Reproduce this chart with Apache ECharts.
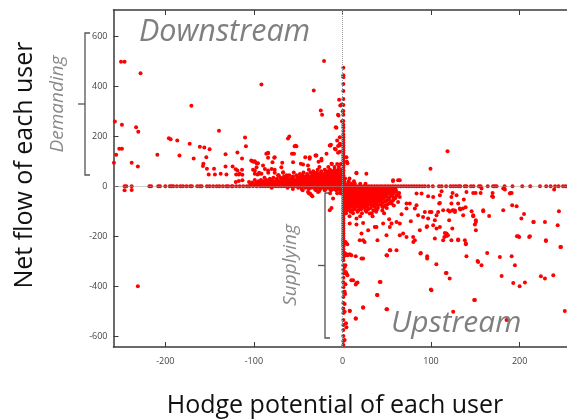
<!DOCTYPE html>
<html><head><meta charset="utf-8">
<script src="https://cdn.jsdelivr.net/npm/echarts@6/dist/echarts.min.js"></script>
<style>html,body{margin:0;padding:0;background:#fff}#c{width:567px;height:419px}</style>
</head><body><div id="c"></div>
<script>
// ---------- data ----------
const xTicks = [-200, -100, 0, 100, 200];
const yTicks = [-600, -400, -200, 0, 200, 400, 600];

// users sitting on net flow = 0
const zeroFlowX = [-246, -244, -238, -218, -216, -208, -206, -200, -195, -193, -191, -187, -183, -180, -176, -172, -170, -164, -161, -159, -153, -150, -146, -142, -139, -135, -131, -129, -125, -124, -120, -116, -112, -108, -105, -101, -97, -93, -90, -87, -84, -81, -78, -75, -72, -69, -66, -63, -60, -57, -54, -51, -48, -45, -42, -39, -36, -33, -30, -27, -24, -21, -18, -15, -12, -9, -6, -3,
  3, 6, 9, 12, 15, 18, 21, 24, 27, 30, 33, 36, 39, 42, 45, 48, 51, 54, 57, 60, 63, 66, 69, 72, 75, 78, 81, 84, 87, 90, 93, 97, 102, 109, 112, 117, 122, 125, 128, 131, 133, 138, 140, 145, 148, 154, 156, 164, 170, 172, 174, 183, 192, 203, 212, 223, 230, 235, 240, 244, 249, 252];

// users sitting on Hodge potential ~ 0
const zeroPotentialY = [475, 445, 437, 410, 382, 350, 326, 302, 287, 262, 247, 236, 222, 208, 197, 186, 175, 165, 155, 145, 135, 125, 115, 105, 95, 85, 75, 65, 55, 45, 35, 25, 15, 5,
  -8, -18, -28, -38, -48, -58, -68, -78, -88, -98, -108, -118, -128, -138, -148, -158, -168, -178, -188, -198, -208, -216, -224, -232, -240, -252, -262, -272, -285, -296, -316, -334, -349, -366, -384, -404, -424, -444, -468, -490, -508, -536, -556, -576, -600, -620, -636];

// dense cluster left of 0: [net flow, potentials]
const demandRows = [
  [6, [-104, -100, -96, -92, -88, -84, -80, -76, -72, -68, -64, -60, -56, -52, -48, -44, -40, -36, -32, -28, -24, -20, -16, -12, -8, -4]],
  [10, [-102, -98, -94, -90, -86, -82, -78, -74, -70, -66, -62, -58, -54, -50, -46, -42, -38, -34, -30, -26, -22, -18, -14, -10, -6, -2]],
  [15, [-102, -97, -93, -89, -85, -81, -77, -73, -69, -65, -61, -57, -53, -49, -45, -41, -37, -33, -29, -25, -21, -17, -13, -9, -5, -1]],
  [20, [-95, -89, -83, -77, -71, -66, -62, -57, -53, -49, -45, -41, -37, -33, -29, -25, -21, -17, -13, -9, -5, -1]],
  [25, [-99, -92, -86, -80, -74, -69, -64, -59, -55, -51, -47, -43, -39, -35, -31, -27, -23, -19, -15, -11, -7, -3]],
  [30, [-82, -74, -67, -61, -55, -49, -44, -40, -36, -32, -28, -24, -20, -16, -12, -8, -4]],
  [35, [-88, -78, -70, -63, -57, -51, -46, -42, -38, -34, -30, -26, -22, -18, -14, -10, -6, -2]],
  [40, [-66, -56, -48, -42, -36, -31, -27, -23, -19, -15, -11, -7, -3]],
  [45, [-72, -60, -52, -45, -39, -34, -29, -25, -21, -17, -13, -9, -5, -1]],
  [50, [-48, -40, -32, -26, -21, -16, -12, -8, -4]],
  [56, [-55, -44, -36, -29, -24, -19, -14, -10, -6, -2]],
  [61, [-33, -24, -17, -11, -7, -3]],
  [67, [-38, -28, -20, -14, -9, -5, -1]],
  [78, [-26, -16, -9, -4]],
  [90, [-12, -6, -2]],
  [-6, [-80, -62, -50, -42, -35, -28, -22, -17, -12, -8, -4]],
  [-11, [-56, -46, -38, -31, -25, -19, -14, -10, -6, -2]],
  [-16, [-45, -30, -20, -13, -7, -3]],
  [-28, [-14, -6, -2]]
];

// dense cluster right of 0
const supplyRows = [
  [32, [3, 8]],
  [20, [2, 7, 13]],
  [10, [2, 6, 10, 14, 20, 26]],
  [-2, [4, 8, 12, 16, 20, 24, 28, 32, 36, 40, 44, 48, 52, 56]],
  [-7, [2, 6, 10, 14, 18, 22, 26, 30, 34, 38, 42, 46, 50, 54, 58]],
  [-12, [3, 7, 11, 15, 19, 23, 27, 31, 35, 39, 43, 47, 51, 55, 60]],
  [-17, [1, 5, 9, 13, 17, 21, 25, 29, 33, 37, 41, 45, 49, 53, 57]],
  [-22, [4, 8, 12, 16, 20, 24, 28, 32, 36, 40, 44, 49, 55, 61]],
  [-27, [3, 7, 11, 15, 19, 23, 27, 31, 35, 39, 43, 47, 52, 58, 64]],
  [-32, [4, 8, 12, 16, 20, 24, 28, 32, 36, 40, 45, 50, 56, 63]],
  [-37, [2, 6, 10, 14, 18, 22, 26, 30, 34, 38, 43, 48, 54, 61]],
  [-42, [3, 7, 11, 15, 19, 23, 27, 31, 35, 40, 45, 50, 57]],
  [-47, [4, 8, 12, 16, 20, 24, 28, 32, 37, 42, 47, 53, 60]],
  [-52, [5, 9, 13, 17, 21, 25, 29, 34, 39, 45, 52, 58]],
  [-57, [3, 7, 11, 15, 19, 23, 27, 32, 37, 43, 50, 57]],
  [-62, [4, 8, 12, 16, 20, 25, 30, 35, 41, 48, 55]],
  [-67, [2, 6, 10, 14, 18, 22, 27, 32, 38, 45, 53]],
  [-72, [3, 7, 11, 15, 20, 25, 30, 36, 43, 51]],
  [-77, [4, 8, 12, 17, 22, 27, 33, 40, 48, 58]],
  [-82, [5, 10, 16, 22, 28, 36, 45]],
  [-87, [3, 8, 13, 19, 25, 32, 40, 50]],
  [-92, [7, 14, 21, 29, 38]],
  [-97, [5, 11, 18, 26, 35, 45]],
  [-102, [9, 17, 27, 38]],
  [-108, [4, 12, 22, 33, 47]],
  [-120, [8, 20, 34]]
];

// scattered users, mostly upper-left (demanding)
const demandPoints = [
  [-250, 500], [-246, 500], [-228, 453], [-257, 260], [-249, 247], [-233, 237], [-230.5, 219], [-252, 151], [-249, 151], [-255.5, 127], [-258, 95], [-238, 95], [-231, 80], [-209, 127],
  [-196, 193], [-194, 189], [-186.5, 184], [-184, 124], [-170.6, 323], [-172.5, 171], [-168, 112], [-161, 159], [-156, 156], [-150, 149], [-153.7, 117], [-157, 91], [-157.5, 82], [-153, 71],
  [-151, 48], [-145, 71], [-144, 48], [-139.4, 223], [-137.5, 51], [-132, 129], [-132, 80], [-131, 48], [-124, 80], [-120.5, 69], [-118.6, 136], [-120, 48], [-117, 48], [-113.4, 112],
  [-113.4, 67], [-113, 47], [-120.5, 17], [-117, 21], [-110, 196], [-109, 161], [-105.5, 17], [-101.7, 101], [-100, 99], [-97, 93], [-101, 67], [-96, 48], [-94, 55],
  [-91.5, 408], [-32.4, 384], [-20.8, 503], [-24.5, 304], [-23, 287], [-60, 200], [-61.5, 192], [-54, 161], [-52, 161], [-54.7, 131], [-86, 131], [-84, 115], [-77, 115], [-79, 97],
  [-68, 95], [-47, 91], [-42, 117], [-37, 117], [-30, 124], [-27, 99], [-13.6, 164], [-7.6, 237], [-4.5, 284], [-3.8, 347], [-2.5, 324], [-6, 184], [-5, 162], [-3, 139],
  [-84, 133], [-76.5, 117], [-99, 101], [-95.4, 93], [-89.7, 84], [-84, 64], [-76.5, 67], [-69, 77], [-67, 57], [-55.8, 97], [-44.5, 88], [-38.9, 84], [-37, 111], [-29.4, 124],
  [-23.7, 104], [-18, 131], [-14.4, 164], [-8.7, 151], [-12.4, 91], [-3, 171], [-99, 51], [-91.5, 51], [-118.6, 64], [-116, 51], [-113, 24], [-103, 104], [-97, 77], [-99, 64],
  [-94, 51], [-87.6, 70], [-83.8, 55], [-80, 70], [-76.5, 55], [-72.7, 45], [-67, 55], [-63, 45], [-246, -16], [-238, -15], [-231, -400], [-38.9, -23], [-35, -36], [-27.6, -23],
  [-37.7, -29], [-13, 167], [-30.5, 124], [-23.7, 111], [-53, 163], [-57, 131], [-84, 135], [-36.6, -29], [-34, -40], [-26.4, -20], [-14.4, -96], [-12.4, -87], [-10.6, -49],
  [4.5, 117], [5.6, 93], [15.8, 55], [4.9, 99], [27, 51], [15.8, 53], [57.2, 24], [64.7, 24], [57, 21], [99.4, 71], [118.6, 141], [0.3, 301], [-0.8, 328], [-5, 287], [-0.5, 261],
  [-6.8, 235], [-3, 197], [-3, 165], [-7.6, 148], [-5, 135]
];

// scattered users, mostly lower-right (supplying)
const supplyPoints = [
  [23.3, -289], [25, -223], [19.5, -216], [15, -280], [8.2, -272], [10, -276], [5.6, -356], [10, -376], [15, -393], [17, -385], [3.4, -392], [8.2, -500], [15, -531], [23.3, -487],
  [39.5, -436], [43, -383], [50.4, -277], [54, -256], [50.4, -493], [39.5, -216], [80, -223], [88, -269], [95.6, -289], [106, -312], [99.8, -413], [116.7, -347], [121, -369], [125, -503],
  [130.6, -216], [139.3, -232], [140, -280], [148.7, -456], [152.5, -299], [157, -316], [163.4, -267], [177.7, -283], [179.7, -359], [185.3, -536], [191, -280], [194.7, -316], [192.8, -387],
  [200, -400], [206, -385], [224, -360], [228.6, -369], [238, -356], [246.7, -243], [251, -500], [229.7, -216],
  [111.9, -20], [124.3, -27], [147.6, -27], [150.3, -27], [156, -27], [169.5, -27], [183.4, -13], [191, -27], [239, -13], [110, -67], [123, -69], [130.6, -69], [137, -53], [121, -101],
  [124, -97], [127, -97], [133, -93], [136, -89], [139, -84], [145.8, -100], [147.6, -116], [150.6, -136], [149.5, -153], [150.6, -176], [158.9, -100], [165.6, -119], [169, -40], [181.5, -96],
  [189.8, -27], [191.6, -76], [196.6, -80], [202, -129], [205, -111], [197, -200], [199.5, -203], [210.8, -203], [216, -143], [228.6, -143], [229.7, -219], [243, -156], [244.4, -100],
  [246, -243], [110, -163], [115.6, -187], [117.5, -199], [119, -196], [115, -203], [120.5, -136], [124, -169], [130.6, -213], [139.3, -229],
  [102.4, -43], [110, -36], [123, -43], [128.8, -36], [140, -23], [157, -9], [170, -43], [181.5, -9], [189, -29], [215.4, -143],
  [64.7, -43], [72.3, -69], [81.7, -89], [85.4, -116], [91, -123], [96.7, -129], [100.5, -103], [106.2, -116], [113.7, -96], [119.3, -96], [125, -96], [132.5, -89], [136.3, -116],
  [147.6, -120], [150.6, -143], [158.9, -96], [117.5, -189], [102.4, -156], [106.2, -169], [95, -163], [104.3, -209], [113.7, -216], [123, -216], [138.2, -216], [153.2, -303],
  [117.5, -347], [100.5, -416], [149.5, -456], [198.4, -200], [211.6, -200],
  [8.2, -149], [15.8, -129], [21.5, -189], [23.3, -216], [29, -176], [38.4, -163], [45.9, -149], [49.7, -196], [53.4, -163], [61, -143], [64.7, -196], [72.3, -203], [81.7, -216],
  [49.7, -276], [61, -256], [21.5, -289], [15.8, -387], [12, -376], [42.1, -383], [39, -436], [49.7, -493], [23.3, -485], [8.2, -499], [15, -529], [4.5, -349],
  [23.3, -147], [15.8, -153], [36.5, -163], [55.4, -149], [52.7, -132], [64.7, -149], [66.7, -112], [77.2, -140], [87.3, -176], [95.6, -160], [79.8, -203], [68.5, -189],
  [53.4, -256], [88.5, -267], [95.6, -280], [109.2, -69], [108, -103], [104.3, -136], [127, -103], [98.6, -103], [93, -103], [83.6, -76], [76, -69], [83.6, -29], [89.3, -29],
  [96.7, -40], [55.4, -69], [62.8, -63], [45.9, -83], [72.3, -89], [38.4, -96], [30.8, -109], [62.8, 24],
  [3.5, -223], [4, -229], [5.5, -232], [2.5, -267], [3.5, -276], [4.5, -272], [6, -276], [2.5, -323], [3.3, -316], [3.8, -343], [2.5, -423], [3, -432], [2.5, -472], [2.5, -503],
  [4, -549], [4.5, -565], [2.5, -616]
];

// ---------- build ----------
const pts = [];
zeroFlowX.forEach(x => pts.push([x, 0]));
zeroPotentialY.forEach(y => pts.push([1, y]));
demandRows.forEach(([y, xs]) => xs.forEach(x => pts.push([x, y])));
supplyRows.forEach(([y, xs]) => xs.forEach(x => pts.push([x, y])));
demandPoints.forEach(p => pts.push(p));
supplyPoints.forEach(p => pts.push(p));

const X_MIN = -258.5, X_MAX = 253.5, Y_MIN = -644, Y_MAX = 707;
const axisCol = '#3a3a3a';
const labelStyle = { fontSize: 9, color: '#444', fontFamily: 'Open Sans' };

const chart = echarts.init(document.getElementById('c'));
chart.setOption({
  animation: false,
  backgroundColor: '#fff',
  grid: { left: 113.5, right: 0, top: 10, bottom: 72 },
  xAxis: [
    { type: 'value', position: 'bottom', min: X_MIN, max: X_MAX,
      axisLine: { show: true, onZero: false, lineStyle: { color: axisCol, width: 1.5 } },
      axisTick: { show: true, inside: true, length: 5, customValues: xTicks, lineStyle: { color: axisCol } },
      axisLabel: Object.assign({ customValues: xTicks, margin: 10 }, labelStyle),
      splitLine: { show: false } },
    { type: 'value', position: 'top', min: X_MIN, max: X_MAX,
      axisLine: { show: true, onZero: false, lineStyle: { color: axisCol, width: 1.5 } },
      axisTick: { show: true, inside: true, length: 5, customValues: xTicks, lineStyle: { color: axisCol } },
      axisLabel: { show: false }, splitLine: { show: false } }
  ],
  yAxis: [
    { type: 'value', position: 'left', min: Y_MIN, max: Y_MAX,
      axisLine: { show: true, onZero: false, lineStyle: { color: axisCol, width: 1.5 } },
      axisTick: { show: true, inside: true, length: 5, customValues: yTicks, lineStyle: { color: axisCol } },
      axisLabel: Object.assign({ customValues: yTicks, margin: 6 }, labelStyle),
      splitLine: { show: false } }
  ],
  series: [
    { type: 'scatter', data: [], z: 1, silent: true,
      markLine: { silent: true, symbol: 'none', animation: false, label: { show: false },
        lineStyle: { color: '#9a9a9a', type: 'dotted', width: 1 },
        data: [{ xAxis: 0 }, { yAxis: 0 }] } },
    { type: 'scatter', data: pts, z: 3, symbol: 'circle', symbolSize: 4,
      itemStyle: { color: '#ff0000', opacity: 1 } }
  ],
  graphic: [
    { type: 'text', x: 25, y: 165, rotation: Math.PI / 2,
      style: { text: 'Net flow of each user', fontSize: 25, fontFamily: 'Open Sans', fill: '#111', align: 'center', verticalAlign: 'middle' } },
    { type: 'text', x: 335, y: 406,
      style: { text: 'Hodge potential of each user', fontSize: 25, fontFamily: 'Open Sans', fill: '#111', align: 'center', verticalAlign: 'middle' } },
    { type: 'text', x: 139, y: 32, z: 10,
      style: { text: 'Downstream', fontSize: 30.5, fontStyle: 'italic', fontFamily: 'Open Sans', fill: '#7f7f7f', align: 'left', verticalAlign: 'middle' } },
    { type: 'text', x: 391, y: 323, z: 10,
      style: { text: 'Upstream', fontSize: 30, fontStyle: 'italic', fontFamily: 'Open Sans', fill: '#7f7f7f', align: 'left', verticalAlign: 'middle' } },
    { type: 'text', x: 58, y: 104, rotation: Math.PI / 2,
      style: { text: 'Demanding', fontSize: 19, fontStyle: 'italic', fontFamily: 'Open Sans', fill: '#8a8a8a', align: 'center', verticalAlign: 'middle' } },
    { type: 'text', x: 291, y: 265, rotation: Math.PI / 2,
      style: { text: 'Supplying', fontSize: 19, fontStyle: 'italic', fontFamily: 'Open Sans', fill: '#8a8a8a', align: 'center', verticalAlign: 'middle' } },
    { type: 'polyline', shape: { points: [[90, 33], [85, 33], [85, 175], [90, 175]] }, style: { stroke: '#555', lineWidth: 1.3, fill: null } },
    { type: 'line', shape: { x1: 85, y1: 104, x2: 78, y2: 104 }, style: { stroke: '#555', lineWidth: 1.3 } },
    { type: 'polyline', z: 10, shape: { points: [[330, 193], [325, 193], [325, 338], [330, 338]] }, style: { stroke: '#555', lineWidth: 1.3, fill: null } },
    { type: 'line', z: 10, shape: { x1: 325, y1: 265.5, x2: 318, y2: 265.5 }, style: { stroke: '#555', lineWidth: 1.3 } }
  ]
});
</script>
</body></html>
